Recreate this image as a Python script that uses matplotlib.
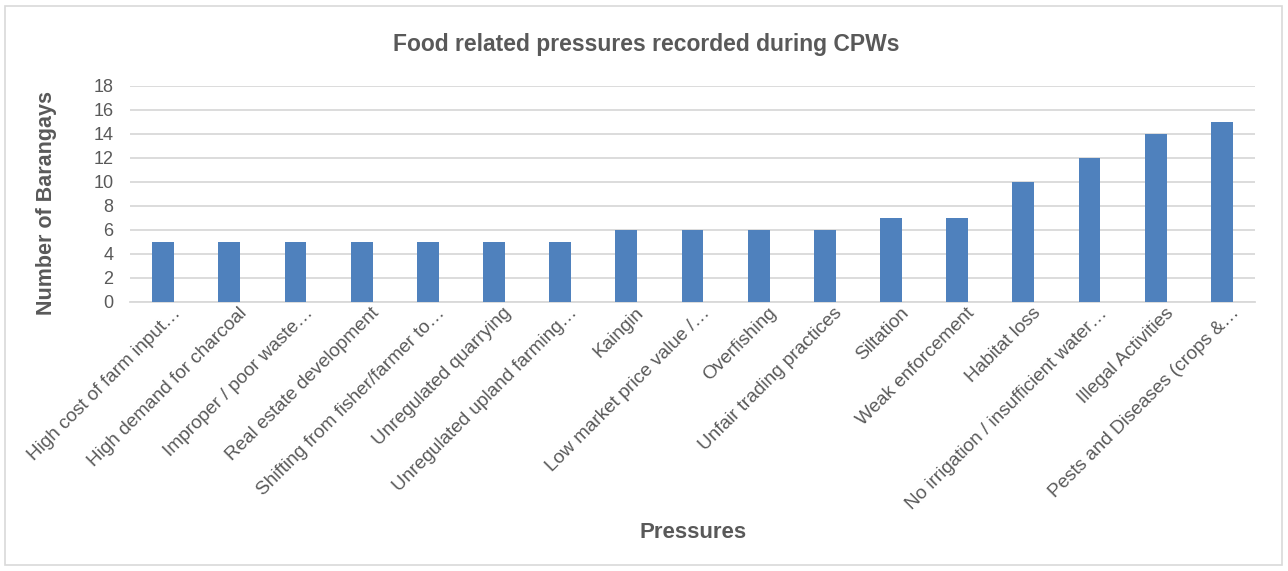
import matplotlib
matplotlib.use("Agg")
import matplotlib.pyplot as plt
import matplotlib.transforms as mtransforms
from matplotlib.patches import Rectangle

categories = [
    "High cost of farm input…",
    "High demand for charcoal",
    "Improper / poor waste…",
    "Real estate development",
    "Shifting from fisher/farmer to…",
    "Unregulated quarrying",
    "Unregulated upland farming…",
    "Kaingin",
    "Low market price value /…",
    "Overfishing",
    "Unfair trading practices",
    "Siltation",
    "Weak enforcement",
    "Habitat loss",
    "No irrigation / insufficient water…",
    "Illegal Activities",
    "Pests and Diseases (crops &…",
]
values = [5, 5, 5, 5, 5, 5, 5, 6, 6, 6, 6, 7, 7, 10, 12, 14, 15]
yticks = [0, 2, 4, 6, 8, 10, 12, 14, 16, 18]

plt.rcParams['font.family'] = ['Liberation Sans', 'DejaVu Sans']
grey = '#595959'

fig = plt.figure(figsize=(12.88, 5.71), dpi=100)
fig.patches.append(Rectangle((5/1288, 6/571), 1277/1288, 559/571, transform=fig.transFigure,
                             fill=False, edgecolor='#d9d9d9', linewidth=1.2))
ax = fig.add_axes([130/1288, 1 - 302/571, 1125/1288, 216/571])

x = list(range(len(categories)))
ax.bar(x, values, width=0.33, color='#4F81BD', zorder=3)
ax.set_xlim(-0.5, len(categories) - 0.5)
ax.set_ylim(0, 18)
ax.set_yticks(yticks)
ax.set_yticklabels([str(v) for v in yticks], fontsize=13, color=grey)
ax.yaxis.grid(True, color='#d9d9d9', linewidth=1.3, zorder=0)
ax.set_axisbelow(True)
for s in ['top', 'right', 'left']:
    ax.spines[s].set_visible(False)
ax.spines['bottom'].set_color('#d9d9d9')
ax.spines['bottom'].set_linewidth(1.3)
ax.tick_params(axis='both', length=0)
ax.tick_params(axis='y', pad=12)
ax.set_xticks(x)
ax.set_xticklabels(categories, rotation=45, ha='right', va='center', rotation_mode='anchor',
                   fontsize=13.7, color=grey)
ax.tick_params(axis='x', pad=12)
offset = mtransforms.ScaledTranslation(15/100, 8/100, fig.dpi_scale_trans)
for lbl in ax.get_xticklabels():
    lbl.set_transform(lbl.get_transform() + offset)

fig.text(646/1288, 1 - 45/571, "Food related pressures recorded during CPWs", ha='center', va='center',
         fontsize=16.5, fontweight='bold', color=grey)
fig.text(47/1288, 1 - 203/571, "Number of Barangays", ha='center', va='center', rotation=90,
         fontsize=15.5, fontweight='bold', color=grey)
fig.text(693/1288, 1 - 533/571, "Pressures", ha='center', va='center',
         fontsize=16, fontweight='bold', color=grey)

fig.savefig("out.png", dpi=100)
